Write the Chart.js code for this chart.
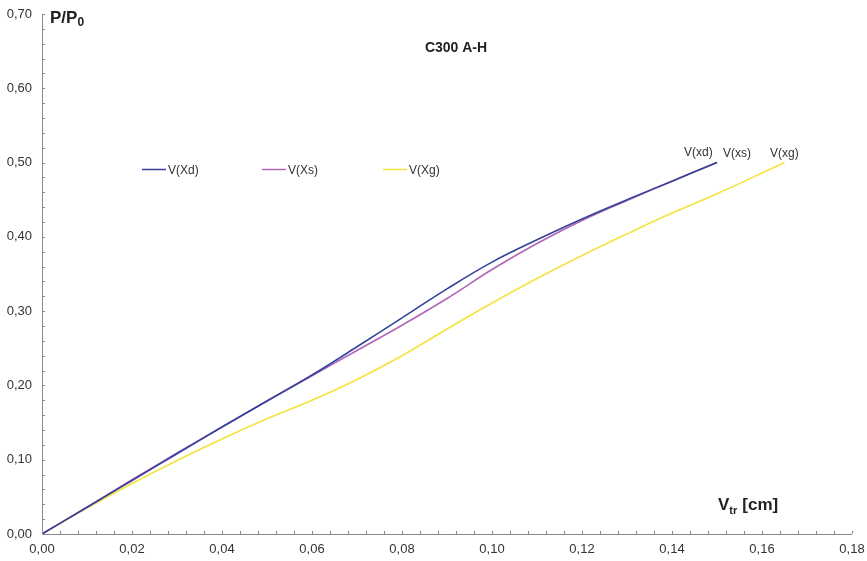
<!DOCTYPE html>
<html>
<head>
<meta charset="utf-8">
<script src="https://cdn.jsdelivr.net/npm/chart.js@4/dist/chart.umd.min.js"></script>
<style>
  html, body { margin: 0; padding: 0; background: #fff; }
  #wrap { width: 867px; height: 561px; position: relative; }
</style>
</head>
<body>
<div id="wrap"><canvas id="c" width="867" height="561"></canvas></div>
<script>
// Displacement V_tr [cm] against load ratio P/P0 for C300 A-H
const xd_v = [0, 0.01, 0.02, 0.03, 0.04, 0.05, 0.06, 0.07, 0.08, 0.09, 0.10, 0.11, 0.12, 0.13, 0.14, 0.15];
const xd_p = [0, 0.036, 0.072, 0.108, 0.144, 0.179, 0.214, 0.252, 0.291, 0.330, 0.366, 0.396, 0.424, 0.450, 0.475, 0.50];

const xs_v = [0, 0.01, 0.02, 0.03, 0.04, 0.05, 0.06, 0.07, 0.08, 0.09, 0.10, 0.11, 0.12, 0.13, 0.14, 0.15];
const xs_p = [0, 0.036, 0.073, 0.109, 0.144, 0.179, 0.213, 0.247, 0.281, 0.317, 0.356, 0.391, 0.422, 0.449, 0.475, 0.50];

const xg_v = [0, 0.01, 0.02, 0.03, 0.04, 0.05, 0.06, 0.07, 0.08, 0.09, 0.10, 0.11, 0.12, 0.13, 0.14, 0.15, 0.165];
const xg_p = [0, 0.035, 0.068, 0.099, 0.128, 0.155, 0.180, 0.208, 0.240, 0.276, 0.311, 0.344, 0.375, 0.404, 0.432, 0.458, 0.50];

const seriesNames = ['V(Xd)', 'V(Xs)', 'V(Xg)'];
const endLabels = ['V(xd)', 'V(xs)', 'V(xg)'];
const seriesColors = ['#34429a', '#b266b8', '#f2e43c'];

const xTicks = [0, 0.02, 0.04, 0.06, 0.08, 0.10, 0.12, 0.14, 0.16, 0.18];
const yTicks = [0, 0.1, 0.2, 0.3, 0.4, 0.5, 0.6, 0.7];

const toPts = (xs, ys) => xs.map((x, i) => ({ x: x, y: ys[i] }));
const fmt = v => v.toFixed(2).replace('.', ',');
const FONT = '"Liberation Sans", Arial, sans-serif';

// axis lines, inward tick marks and all annotation text
const decor = {
  id: 'decor',
  afterDraw(chart) {
    const ctx = chart.ctx;
    const xs = chart.scales.x, ys = chart.scales.y;
    const x0 = xs.getPixelForValue(0), y0 = ys.getPixelForValue(0);
    const x1 = xs.getPixelForValue(0.18), y1 = ys.getPixelForValue(0.70);
    ctx.save();
    ctx.strokeStyle = '#8a8a8a';
    ctx.lineWidth = 1;
    ctx.beginPath();
    ctx.moveTo(Math.round(x0) + 0.5, y1);
    ctx.lineTo(Math.round(x0) + 0.5, Math.round(y0) + 0.5);
    ctx.lineTo(x1, Math.round(y0) + 0.5);
    ctx.stroke();
    ctx.beginPath();
    for (let i = 1; i <= 35; i++) {
      const py = Math.round(ys.getPixelForValue(i * 0.02)) + 0.5;
      ctx.moveTo(x0, py); ctx.lineTo(x0 + 3, py);
    }
    for (let i = 1; i <= 45; i++) {
      const px = Math.round(xs.getPixelForValue(i * 0.004)) + 0.5;
      ctx.moveTo(px, y0); ctx.lineTo(px, y0 - 3);
    }
    ctx.stroke();

    ctx.fillStyle = '#222';
    ctx.textBaseline = 'alphabetic';
    // title
    ctx.font = 'bold 14px ' + FONT;
    ctx.textAlign = 'center';
    ctx.fillText('C300 A-H', 456, 52);
    // y axis title P/P0
    ctx.textAlign = 'left';
    ctx.font = 'bold 17px ' + FONT;
    ctx.fillText('P/P', 50, 23);
    const w = ctx.measureText('P/P').width;
    ctx.font = 'bold 12px ' + FONT;
    ctx.fillText('0', 50 + w, 26);
    // x axis title V_tr [cm]
    ctx.font = 'bold 17px ' + FONT;
    ctx.fillText('V', 718, 510);
    const wv = ctx.measureText('V').width;
    ctx.font = 'bold 11px ' + FONT;
    ctx.fillText('tr', 718 + wv, 514);
    const wt = ctx.measureText('tr').width;
    ctx.font = 'bold 17px ' + FONT;
    ctx.fillText('[cm]', 718 + wv + wt + 5, 510);

    // inline legend
    const legX = [142, 262, 383];
    ctx.font = '12px ' + FONT;
    ctx.fillStyle = '#333';
    for (let i = 0; i < 3; i++) {
      ctx.strokeStyle = seriesColors[i];
      ctx.lineWidth = 1.5;
      ctx.beginPath();
      ctx.moveTo(legX[i], 169.5); ctx.lineTo(legX[i] + 24, 169.5);
      ctx.stroke();
      ctx.fillText(seriesNames[i], legX[i] + 26, 174);
    }
    // end-of-curve labels
    const endPos = [[684, 156], [723, 157], [770, 157]];
    for (let i = 0; i < 3; i++) {
      ctx.fillText(endLabels[i], endPos[i][0], endPos[i][1]);
    }
    ctx.restore();
  }
};

new Chart(document.getElementById('c'), {
  type: 'scatter',
  data: {
    datasets: [
      { label: seriesNames[0], data: toPts(xd_v, xd_p) },
      { label: seriesNames[1], data: toPts(xs_v, xs_p) },
      { label: seriesNames[2], data: toPts(xg_v, xg_p) }
    ].map((d, i) => Object.assign(d, {
      showLine: true,
      borderColor: seriesColors[i],
      backgroundColor: seriesColors[i],
      borderWidth: 1.6,
      pointRadius: 0,
      tension: 0.4
    }))
  },
  options: {
    responsive: false,
    animation: false,
    layout: { padding: { left: 0, right: 15, top: 14, bottom: 0 } },
    plugins: { legend: { display: false }, tooltip: { enabled: false } },
    scales: {
      x: {
        type: 'linear', min: 0, max: 0.18,
        afterBuildTicks: s => { s.ticks = xTicks.map(v => ({ value: v })); },
        afterFit: s => { s.height = 27; s.paddingLeft = 0; s.paddingRight = 0; },
        grid: { display: false, drawTicks: false },
        border: { display: false },
        ticks: { padding: 8, color: '#333', font: { family: FONT, size: 13 }, callback: v => fmt(v), maxRotation: 0 }
      },
      y: {
        type: 'linear', min: 0, max: 0.7,
        afterBuildTicks: s => { s.ticks = yTicks.map(v => ({ value: v })); },
        afterFit: s => { s.width = 42; s.paddingTop = 0; s.paddingBottom = 0; },
        grid: { display: false, drawTicks: false },
        border: { display: false },
        ticks: { padding: 10, color: '#333', font: { family: FONT, size: 13 }, callback: v => fmt(v) }
      }
    }
  },
  plugins: [decor]
});
</script>
</body>
</html>
